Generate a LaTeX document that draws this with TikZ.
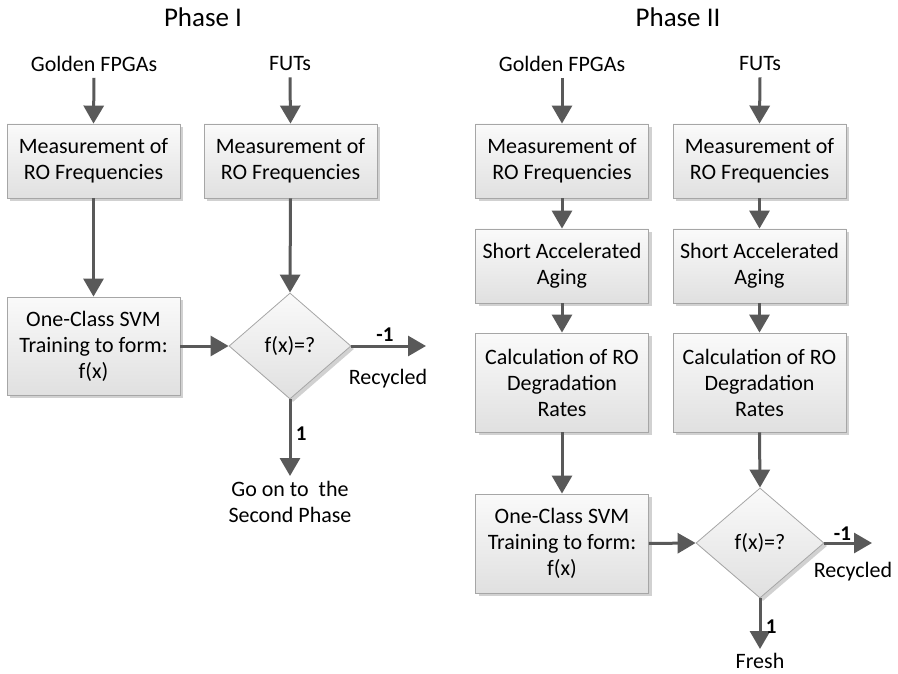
\documentclass[tikz,border=0pt]{standalone}
\usepackage{fontspec}
\setmainfont{Carlito}
\usetikzlibrary{arrows.meta,shapes.geometric,shadows}
\definecolor{arrowgray}{HTML}{595959}
\definecolor{boxline}{HTML}{A6A6A6}
\definecolor{boxtop}{HTML}{FAFAFA}
\definecolor{boxbottom}{HTML}{E0E0E0}
\tikzset{
  txt/.style={font=\fontsize{22}{26}\selectfont, align=center},
  title/.style={font=\fontsize{27}{30}\selectfont},
  procbox/.style={txt, draw=boxline, line width=0.8pt, top color=boxtop, bottom color=boxbottom,
    minimum width=173pt, inner sep=0pt,
    drop shadow={shadow xshift=3pt, shadow yshift=-3pt, opacity=0.18, fill=black}},
  decide/.style={txt, diamond, draw=boxline, line width=0.8pt, top color=boxtop, bottom color=boxbottom, inner sep=0pt,
    drop shadow={shadow xshift=3pt, shadow yshift=-3pt, opacity=0.18, fill=black}},
  arr/.style={draw=arrowgray, line width=3pt, -{Triangle[width=20pt,length=18pt]}, arrowgray},
  src/.style={txt, inner sep=6pt},
  branch/.style={text=black, font=\bfseries\fontsize{21}{24}\selectfont}
}
\begin{document}
\begin{tikzpicture}[x=1pt,y=-1pt]
\useasboundingbox (0,0) rectangle (898,674);

% ---------------- Phase I ----------------
\node[title] (t1) at (203,17) {Phase I};
\node[src] (g1) at (94,64) {Golden FPGAs};
\node[src] (f1) at (290,64) {FUTs};

\node[procbox, minimum height=74pt] (m1) at (93.5,161) {Measurement of\\RO Frequencies};
\node[procbox, minimum height=74pt] (m2) at (290.5,161) {Measurement of\\RO Frequencies};
\node[procbox, minimum height=98pt] (s1) at (93.5,346) {One-Class SVM\\Training to form:\\f(x)};
\node[decide, minimum width=122pt, minimum height=106pt] (d1) at (290,346) {f(x)=?};

\coordinate (r1) at (426,346);
\coordinate (o1) at (290,476);
\node[txt, anchor=north] (rc1) at (388,366) {Recycled};
\node[txt, anchor=north] (go1) at (290,478) {Go on to~~the\\Second Phase};

\draw[arr] (g1.south) -- (m1.north);
\draw[arr] (f1.south) -- (m2.north);
\draw[arr] (m1.south) -- (s1.north);
\draw[arr] (m2.south) -- (d1.north);
\draw[arr] (s1.east) -- (d1.west);
\draw[arr] (d1.east) -- node[branch, pos=0.45, above=0pt] {-1} (r1);
\draw[arr] (d1.south) -- node[branch, pos=0.45, right=1pt] {1} (o1);

% ---------------- Phase II ----------------
\node[title] (t2) at (678,17) {Phase II};
\node[src] (g2) at (562,64) {Golden FPGAs};
\node[src] (f2) at (760,64) {FUTs};

\node[procbox, minimum height=74pt] (a1) at (562,161) {Measurement of\\RO Frequencies};
\node[procbox, minimum height=74pt] (a2) at (759.5,161) {Measurement of\\RO Frequencies};
\node[procbox, minimum height=74pt] (b1) at (562,266) {Short Accelerated\\Aging};
\node[procbox, minimum height=74pt] (b2) at (759.5,266) {Short Accelerated\\Aging};
\node[procbox, minimum height=99pt] (c1) at (562,382.5) {Calculation of RO\\Degradation\\Rates};
\node[procbox, minimum height=99pt] (c2) at (759.5,382.5) {Calculation of RO\\Degradation\\Rates};
\node[procbox, minimum height=99pt] (s2) at (562,543.5) {One-Class SVM\\Training to form:\\f(x)};
\node[decide, minimum width=128pt, minimum height=110pt] (d2) at (760,543) {f(x)=?};

\coordinate (r2) at (872,543);
\coordinate (o2) at (760,649);
\node[txt, anchor=north] (rc2) at (853,559) {Recycled};
\node[txt, anchor=north] (fr) at (760,650) {Fresh};

\draw[arr] (g2.south) -- (a1.north);
\draw[arr] (f2.south) -- (a2.north);
\draw[arr] (a1.south) -- (b1.north);
\draw[arr] (a2.south) -- (b2.north);
\draw[arr] (b1.south) -- (c1.north);
\draw[arr] (b2.south) -- (c2.north);
\draw[arr] (c1.south) -- (s2.north);
\draw[arr] (c2.south) -- (d2.north);
\draw[arr] (s2.east) -- (d2.west);
\draw[arr] (d2.east) -- node[branch, pos=0.38, above=-2pt] {-1} (r2);
\draw[arr] (d2.south) -- node[branch, pos=0.55, right=1pt] {1} (o2);
\end{tikzpicture}
\end{document}
